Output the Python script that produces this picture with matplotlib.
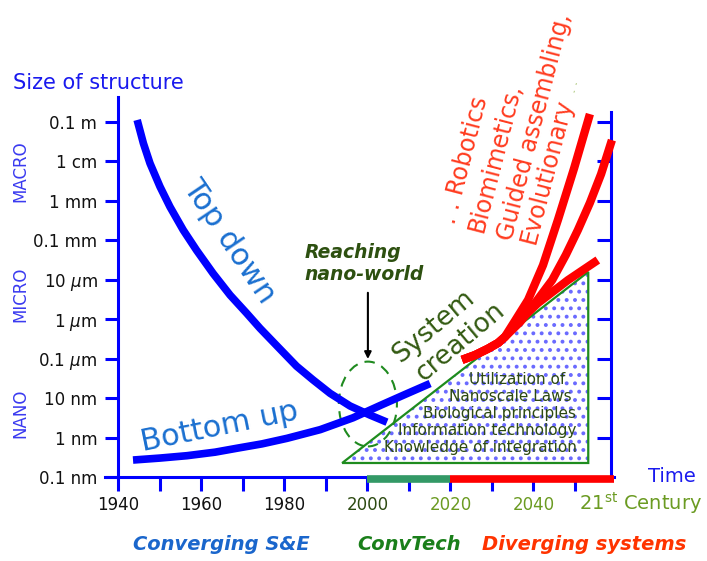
import matplotlib.pyplot as plt
from matplotlib.patches import Polygon, Ellipse

plt.rcParams['font.family'] = 'DejaVu Sans'
plt.rcParams['hatch.linewidth'] = 1.6

# Шкала размеров: 0 = 0.1 nm, каждый шаг - один порядок
size_levels = [0, 1, 2, 3, 4, 5, 6, 7, 8, 9]
size_labels = ['0.1 nm', '1 nm', '10 nm', '0.1 $\\mu$m', '1 $\\mu$m',
               '10 $\\mu$m', '0.1 mm', '1 mm', '1 cm', '0.1 m']

year_ticks = [1940, 1950, 1960, 1970, 1980, 1990, 2000, 2010, 2020, 2030, 2040, 2050]
year_labels = ['1940', '', '1960', '', '1980', '', '2000', '', '2020', '', '2040', '']
year_colors = ['#111111', '#111111', '#111111', '#111111', '#111111', '#111111',
               '#2d4a12', '#2d4a12', '#6b9b22', '#6b9b22', '#6b9b22', '#6b9b22']

# Top down
top_down_year = [1944.5, 1946.0, 1947.6, 1950.0, 1952.4, 1955.6, 1958.8, 1962.8, 1966.9,
                 1970.9, 1974.1, 1978.4, 1982.9, 1986.9, 1991.0, 1995.8, 2000.6, 2004.7]
top_down_size = [9.05, 8.46, 7.95, 7.36, 6.85, 6.26, 5.75, 5.16, 4.61,
                 4.15, 3.77, 3.30, 2.81, 2.46, 2.12, 1.80, 1.57, 1.39]

# Bottom up
bottom_up_year = [1943.5, 1950.0, 1956.5, 1963.3, 1968.6, 1974.6, 1980.6, 1988.6,
                  1996.5, 2003.0, 2009.0, 2015.1]
bottom_up_size = [0.43, 0.48, 0.54, 0.63, 0.73, 0.84, 0.98, 1.20,
                  1.50, 1.81, 2.09, 2.37]

# Diverging systems: общий ствол и три ветви
trunk_year = [2022.8, 2025.9, 2029.0, 2031.5, 2033.1]
trunk_size = [2.97, 3.09, 3.25, 3.40, 3.55]
branch1_year = [2035.5, 2038.7, 2042.3, 2045.9, 2049.8, 2053.6]
branch1_size = [3.95, 4.49, 5.37, 6.52, 7.83, 9.20]
branch2_year = [2036.8, 2040.6, 2044.5, 2047.8, 2050.7, 2053.6, 2056.3, 2058.9]
branch2_size = [3.93, 4.44, 4.99, 5.63, 6.26, 6.95, 7.68, 8.54]
branch3_year = [2036.8, 2041.1, 2048.3, 2055.5]
branch3_size = [3.98, 4.41, 4.99, 5.50]

# System creation (треугольник)
system_year = [1993.9, 2053.2, 2053.2]
system_size = [0.355, 0.355, 5.20]

# Периоды на оси времени
convtech_period = [2000, 2020]
diverging_period = [2020, 2059.5]

triangle_lines = ['Utilization of', 'Nanoscale Laws', 'Biological principles',
                  'Information technology', 'Knowledge of integration']
triangle_line_year = [2036.0, 2034.3, 2031.7, 2028.8, 2027.1]
triangle_line_size = [2.46, 2.03, 1.62, 1.17, 0.74]

diverging_lines = ['. . Robotics', 'Biomimetics,', 'Guided assembling,', 'Evolutionary']
diverging_line_year = [2021.1, 2027.8, 2034.8, 2040.4]
diverging_line_size = [6.39, 6.19, 5.97, 5.88]

blue = '#0000ff'
red = '#ff0000'

fig = plt.figure(figsize=(7.07, 5.61), dpi=100)
ax = fig.add_axes([105.2 / 707, 84 / 561, 509.2 / 707, 380.3 / 561])
ax.set_xlim(1936.8, 2059.5)
ax.set_ylim(0, 9.64)

ax2 = ax.twinx()
ax2.set_ylim(0, 9.64)
ax.set_zorder(2)
ax2.set_zorder(1)
ax.patch.set_visible(False)

# оси
for s in ['top', 'right']:
    ax.spines[s].set_visible(False)
for s in ['left', 'bottom']:
    ax.spines[s].set_color(blue)
    ax.spines[s].set_linewidth(2.2)
ax.spines['left'].set_position(('data', 1940))

for s in ['top', 'left', 'bottom']:
    ax2.spines[s].set_visible(False)
ax2.spines['right'].set_position(('data', 2058.7))
ax2.spines['right'].set_bounds(0, 9.24)
ax2.spines['right'].set_color(blue)
ax2.spines['right'].set_linewidth(2.2)
ax2.set_yticks(size_levels[1:])
ax2.set_yticklabels([])
ax2.tick_params(axis='y', direction='in', length=10, width=2.2, color=blue)

ax.set_yticks(size_levels)
ax.set_yticklabels(size_labels, fontsize=12, color='#111111')
ax.tick_params(axis='y', direction='out', length=9.4, width=2.2, color=blue, pad=5.8)

ax.set_xticks(year_ticks)
ax.set_xticklabels(year_labels, fontsize=12)
ax.tick_params(axis='x', direction='out', length=10, width=2.2, color=blue, pad=3.5)
for lbl, c in zip(ax.get_xticklabels(), year_colors):
    lbl.set_color(c)

ax.plot(convtech_period, [-0.06, -0.06], color='#339966', lw=5.5,
        solid_capstyle='butt', clip_on=False, zorder=6)
ax.plot(diverging_period, [-0.06, -0.06], color=red, lw=5.5,
        solid_capstyle='butt', clip_on=False, zorder=6)

# треугольник system creation
tri = list(zip(system_year, system_size))
ax.add_patch(Polygon(tri, closed=True, facecolor='white', edgecolor='#6a6aff',
                     linewidth=0, hatch='..', zorder=1))
ax.add_patch(Polygon(tri, closed=True, fill=False, edgecolor='#1e8c1e',
                     linewidth=1.6, zorder=2))
for txt, x, y in zip(triangle_lines, triangle_line_year, triangle_line_size):
    ax.text(x, y, txt, fontsize=11, color='#2d4a12', ha='center', va='center', zorder=3)

# кривые
ax.plot(top_down_year, top_down_size, color=blue, lw=5.5,
        solid_capstyle='butt', solid_joinstyle='round', zorder=4)
ax.plot(bottom_up_year, bottom_up_size, color=blue, lw=5.5,
        solid_capstyle='butt', solid_joinstyle='round', zorder=4)
for by, bs in [(branch3_year, branch3_size), (branch2_year, branch2_size),
               (branch1_year, branch1_size)]:
    ax.plot(trunk_year + by, trunk_size + bs, color=red, lw=6,
            solid_capstyle='butt', solid_joinstyle='round', zorder=5, clip_on=False)

# Reaching nano-world
ax.add_patch(Ellipse((2000.1, 1.85), 14.0, 2.15, fill=False, edgecolor='#1f8a1f',
                     linewidth=1.5, linestyle=(0, (5, 3.5)), zorder=3))
ax.annotate('', xy=(2000.1, 2.92), xytext=(2000.1, 4.74),
            arrowprops=dict(arrowstyle='-|>', color='black', lw=1.5, mutation_scale=10))
ax.text(1984.9, 5.55, 'Reaching', fontsize=13.5, fontweight='bold', fontstyle='italic',
        color='#2d5010', ha='left', va='baseline')
ax.text(1984.9, 4.99, 'nano-world', fontsize=13.5, fontweight='bold', fontstyle='italic',
        color='#2d5010', ha='left', va='baseline')

ax.text(1966.6, 5.98, 'Top down', fontsize=22, color='#1a6fd0', rotation=-56,
        rotation_mode='anchor', ha='center', va='center')
ax.text(1945.9, 0.66, 'Bottom up', fontsize=22, color='#1a6fd0', rotation=11.5,
        rotation_mode='anchor', ha='left', va='baseline')
ax.text(2016.0, 3.83, 'System', fontsize=19, color='#335a12', rotation=40,
        rotation_mode='anchor', ha='center', va='center')
ax.text(2022.3, 3.42, 'creation', fontsize=19, color='#335a12', rotation=40,
        rotation_mode='anchor', ha='center', va='center')

for txt, x, y in zip(diverging_lines, diverging_line_year, diverging_line_size):
    ax.text(x, y, txt, fontsize=17, color='#ff3b1f', rotation=75.5,
            rotation_mode='anchor', ha='left', va='baseline')
ax.text(2050.0, 9.73, '. .', fontsize=9, color='#7aa52a', rotation=75.5,
        rotation_mode='anchor', ha='left', va='baseline')

# подписи вне осей
fig.text(13 / 707, 1 - 83 / 561, 'Size of structure', fontsize=15, color='#1a1aee',
         ha='left', va='center')
for txt, yp in [('MACRO', 171), ('MICRO', 294), ('NANO', 413)]:
    fig.text(20 / 707, 1 - yp / 561, txt, fontsize=12, color='#3a3af0',
             rotation=90, ha='center', va='center')
fig.text(648 / 707, 1 - 476 / 561, 'Time', fontsize=14, color='#1a1aee',
         ha='left', va='center')
fig.text(579 / 707, 1 - 503 / 561, '21$^{\\mathrm{st}}$ Century', fontsize=14,
         color='#6b9b22', ha='left', va='center')

for txt, xp, c in [('Converging S&E', 221.5, '#1a66cc'), ('ConvTech', 409, '#1a7f1a'),
                   ('Diverging systems', 584, '#ff3300')]:
    fig.text(xp / 707, 1 - 545 / 561, txt, fontsize=14, fontweight='bold',
             fontstyle='italic', color=c, ha='center', va='center')

fig.savefig('out.png', dpi=100)
